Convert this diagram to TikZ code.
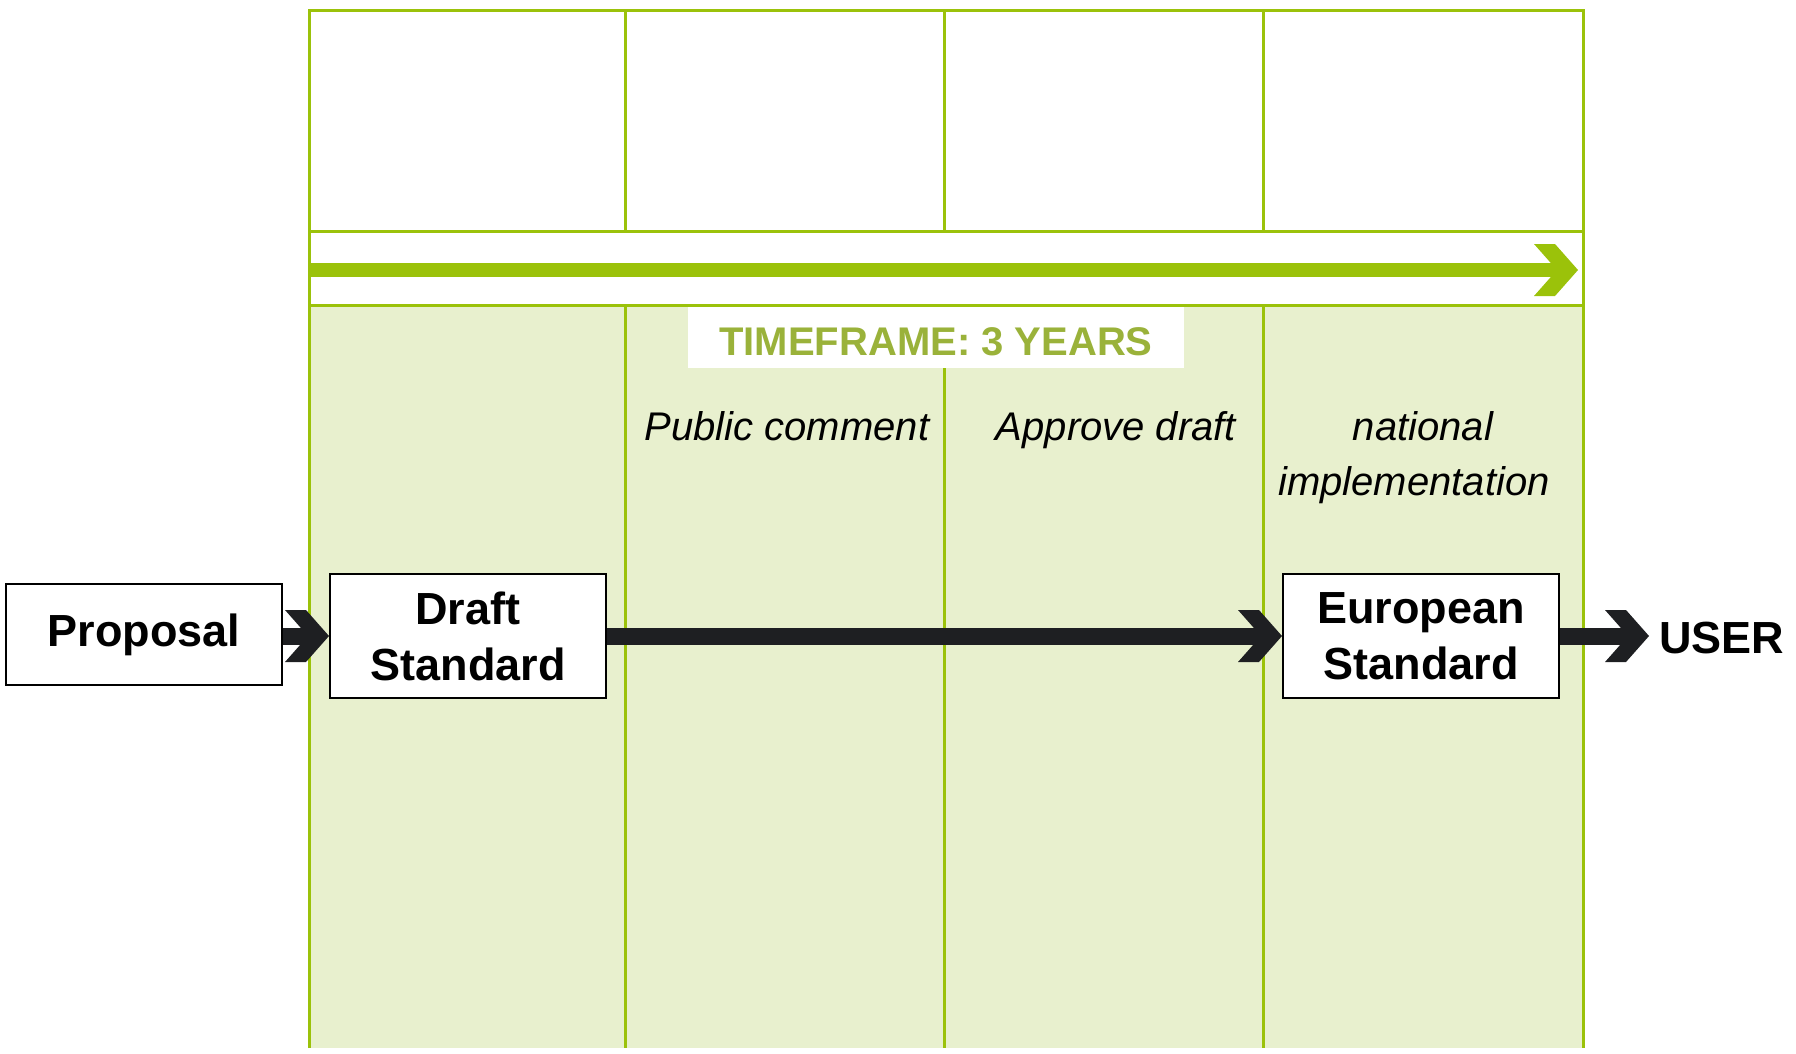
\documentclass[tikz,border=0pt]{standalone}
\usepackage{fontspec}
\setmainfont{Liberation Sans}
\usetikzlibrary{arrows.meta}
\definecolor{gline}{HTML}{9BC20A}
\definecolor{gfill}{HTML}{E8F0CE}
\definecolor{gtext}{HTML}{9AB23A}
\definecolor{dark}{HTML}{1E1F22}
\pgfdeclarearrow{
  name = Chev,
  setup code = {
    \pgfarrowssettipend{0pt}
    \pgfarrowssetbackend{-44pt}
    \pgfarrowssetlineend{-15pt}
  },
  drawing code = {
    \pgfpathmoveto{\pgfqpoint{0pt}{0pt}}
    \pgfpathlineto{\pgfqpoint{-23pt}{26pt}}
    \pgfpathlineto{\pgfqpoint{-44pt}{26pt}}
    \pgfpathlineto{\pgfqpoint{-21pt}{0pt}}
    \pgfpathlineto{\pgfqpoint{-44pt}{-26pt}}
    \pgfpathlineto{\pgfqpoint{-23pt}{-26pt}}
    \pgfpathclose
    \pgfusepathqfill
  }
}
\tikzset{
  gridline/.style={draw=gline, line width=3pt},
  boxnode/.style={draw=black, line width=2pt, fill=white, align=center, inner sep=0pt,
    font=\fontsize{45}{56}\selectfont\bfseries},
  phase/.style={anchor=base, inner sep=0pt, font=\fontsize{40}{56}\selectfont\itshape},
  flow/.style={draw=dark, fill=dark, line width=17pt, -{Chev}},
  gflow/.style={draw=gline, fill=gline, line width=14pt, -{Chev}}
}
\begin{document}
\begin{tikzpicture}[x=1pt,y=-1pt]
\useasboundingbox (0,0) rectangle (1796,1053);
% lower shaded area
\fill[gfill] (309,305) rectangle (1583,1048);
% grid
\draw[gridline] (309,1048) -- (309,10) -- (1583,10) -- (1583,1048);
\draw[gridline] (309,231) -- (1583,231);
\draw[gridline] (309,305) -- (1583,305);
\foreach \x in {625,944,1263} {
  \draw[gridline] (\x,10) -- (\x,231);
  \draw[gridline] (\x,305) -- (\x,1048);
}
% timeline arrow
\coordinate (gs) at (309,270);
\coordinate (ge) at (1578,270);
\draw[gflow] (gs) -- (ge);
% timeframe label
\node[fill=white, minimum width=496pt, minimum height=61pt, inner sep=0pt,
  text height=36pt, text depth=0pt,
  text=gtext, font=\fontsize{40}{48}\selectfont\bfseries] (tf) at (936,337.5) {TIMEFRAME: 3 YEARS};
% phase labels
\node[phase] (pc) at (787,440) {Public comment};
\node[phase] (ad) at (1116,440) {Approve draft};
\node[phase] (ni1) at (1423,440) {national};
\node[phase] (ni2) at (1414,495) {implementation};
% boxes
\node[boxnode, minimum width=276pt, minimum height=101pt] (prop) at (144,634.5) {Proposal};
\node[boxnode, minimum width=276pt, minimum height=124pt] (draft) at (468,636) {Draft\\Standard};
\node[boxnode, minimum width=276pt, minimum height=124pt] (euro) at (1421,636) {European\\Standard};
\node[anchor=base west, inner sep=0pt, font=\fontsize{45}{56}\selectfont\bfseries] (user) at (1659,653) {USER};
\coordinate (uend) at (1649,636);
% connectors
\draw[flow] (prop.east |- draft.west) -- (draft.west);
\draw[flow] (draft.east) -- (euro.west);
\draw[flow] (euro.east) -- (uend);
\end{tikzpicture}
\end{document}
